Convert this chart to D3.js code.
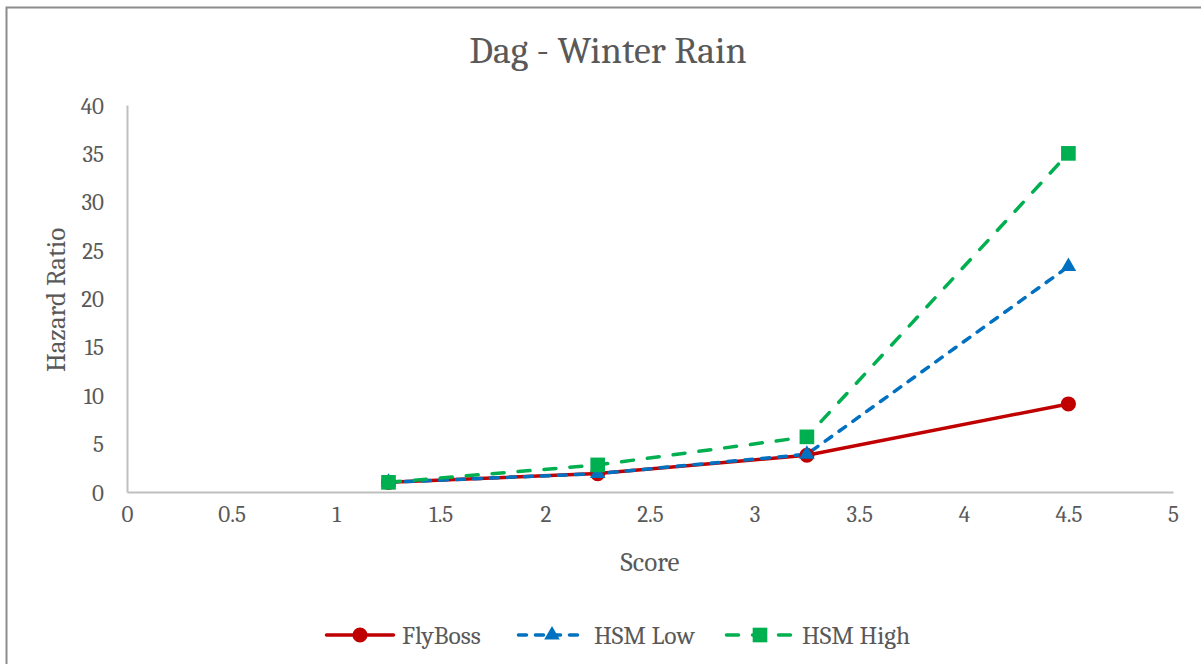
<!DOCTYPE html>
<html><head><meta charset="utf-8">
<script src="https://cdn.jsdelivr.net/npm/d3@7"></script>
<style>body{margin:0;background:#fff}svg{display:block}</style>
</head><body>
<svg id="c" width="1201" height="664"></svg>
<script>
const scores = [1.25, 2.25, 3.25, 4.5];
const flyBoss = [1.0, 1.9, 3.8, 9.1];
const hsmLow = [1.0, 1.9, 3.9, 23.3];
const hsmHigh = [1.0, 2.8, 5.7, 35.0];
const xTicks = [0, 0.5, 1, 1.5, 2, 2.5, 3, 3.5, 4, 4.5, 5];
const yTicks = [0, 5, 10, 15, 20, 25, 30, 35, 40];
const seriesNames = ["FlyBoss", "HSM Low", "HSM High"];

const font = "Cambria, 'Liberation Serif', 'DejaVu Serif', serif";
const txt = "#595959";
const svg = d3.select("#c");
svg.append("rect").attr("x", 6.5).attr("y", 7.5).attr("width", 1205).attr("height", 670)
  .attr("fill", "#fff").attr("stroke", "#8c8c8c").attr("stroke-width", 2);

const x = d3.scaleLinear().domain([0, 5]).range([127, 1173]);
const y = d3.scaleLinear().domain([0, 40]).range([492, 105]);

// axes
const xa = svg.append("g").attr("transform", "translate(0,492)")
  .call(d3.axisBottom(x).tickValues(xTicks).tickSize(0).tickPadding(22).tickFormat(d3.format("")));
const ya = svg.append("g").attr("transform", "translate(127,0)")
  .call(d3.axisLeft(y).tickValues(yTicks).tickSize(0).tickPadding(23));
[xa, ya].forEach(a => {
  a.select(".domain").attr("stroke", "#bfbfbf").attr("stroke-width", 2);
  a.selectAll("text").attr("fill", txt).style("font-family", font).style("font-size", "23px");
});
xa.selectAll("text").attr("dy", "0.35em");
ya.selectAll("text").attr("dy", "0.35em");

svg.append("text").attr("x", 608).attr("y", 63).attr("text-anchor", "middle")
  .attr("fill", txt).style("font-family", font).style("font-size", "38px").text("Dag - Winter Rain");
svg.append("text").attr("x", 650).attr("y", 571).attr("text-anchor", "middle")
  .attr("fill", txt).style("font-family", font).style("font-size", "27px").text("Score");
svg.append("text").attr("transform", "translate(65,300) rotate(-90)").attr("text-anchor", "middle")
  .attr("fill", txt).style("font-family", font).style("font-size", "27px").text("Hazard Ratio");

const series = [
  {name: seriesNames[0], vals: flyBoss, color: "#c00000", dash: null, shape: d3.symbolCircle, size: 180},
  {name: seriesNames[1], vals: hsmLow, color: "#0070c0", dash: "8,9", shape: d3.symbolTriangle, size: 105},
  {name: seriesNames[2], vals: hsmHigh, color: "#00b050", dash: "12,14", shape: d3.symbolSquare, size: 215}
];
const line = d3.line().x(d => x(d[0])).y(d => y(d[1]));
series.forEach(s => {
  const pts = scores.map((sc, i) => [sc, s.vals[i]]);
  svg.append("path").datum(pts).attr("d", line).attr("fill", "none")
    .attr("stroke", s.color).attr("stroke-width", 3.5).attr("stroke-linecap", "round")
    .attr("stroke-dasharray", s.dash);
});
series.forEach(s => {
  const sym = d3.symbol().type(s.shape).size(s.size);
  scores.forEach((sc, i) => {
    svg.append("path").attr("d", sym()).attr("fill", s.color)
      .attr("transform", `translate(${x(sc)},${y(s.vals[i])})`);
  });
});

// legend
const legX = [325, 517, 725];
series.forEach((s, i) => {
  const g = svg.append("g").attr("transform", `translate(${legX[i]},635)`);
  g.append("line").attr("x1", 1.5).attr("x2", 68.5).attr("y1", 0).attr("y2", 0)
    .attr("stroke", s.color).attr("stroke-width", 3.5).attr("stroke-linecap", "round")
    .attr("stroke-dasharray", s.dash);
  const sym = d3.symbol().type(s.shape).size(s.size);
  g.append("path").attr("d", sym()).attr("fill", s.color).attr("transform", "translate(35,0)");
  g.append("text").attr("x", 77).attr("y", 0).attr("dy", "0.35em").attr("fill", txt)
    .style("font-family", font).style("font-size", "25.5px").text(s.name);
});
</script>
</body></html>
